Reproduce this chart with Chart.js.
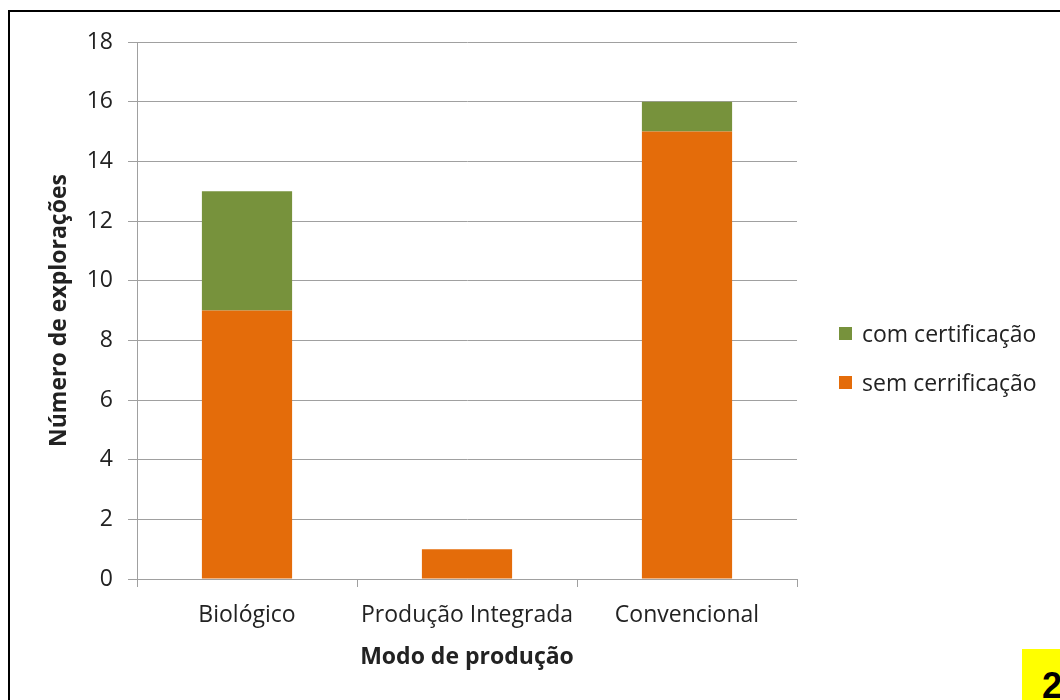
<!DOCTYPE html>
<html lang="pt">
<head>
<meta charset="utf-8">
<title>Número de explorações por modo de produção</title>
<script src="https://cdn.jsdelivr.net/npm/chart.js@4/dist/chart.umd.min.js"></script>
<style>
  html, body { margin: 0; padding: 0; background: #fff; width: 1060px; height: 700px; overflow: hidden; }
  #wrap { position: relative; width: 1060px; height: 700px; }
  #chart { position: absolute; left: 0; top: 0; }
  #frame { position: absolute; left: 8px; top: 10px; width: 1120px; height: 760px;
           border: 2px solid #000; box-sizing: border-box; pointer-events: none; }
  #legend { position: absolute; left: 839px; top: 319px; font: 23px "Open Sans", Lato, sans-serif; color: #222; }
  .item { display: flex; align-items: center; height: 28px; margin-bottom: 21px; white-space: nowrap; }
  .swatch { width: 13px; height: 13px; margin-right: 10px; flex: none; }
  #badge { position: absolute; left: 1022px; top: 649px; width: 80px; height: 80px; background: #ffff00; }
  #badge span { position: absolute; left: 20px; top: 19px; font: bold 36px "Liberation Sans", Arial, sans-serif;
                line-height: 36px; color: #000; }
</style>
</head>
<body>
<div id="wrap">
  <canvas id="chart" width="1060" height="700"></canvas>
  <div id="legend"></div>
  <div id="frame"></div>
  <div id="badge"><span>2</span></div>
</div>
<script>
// Categories and values
const categories = ['Biológico', 'Produção Integrada', 'Convencional'];
const semCertificacao = [9, 1, 15];
const comCertificacao = [4, 0, 1];
const seriesNames = ['sem cerrificação', 'com certificação'];
const seriesColors = ['#e46c0a', '#77923c'];
const yMin = 0, yMax = 18, yStep = 2;

const textColor = '#222';
const lineColor = '#a0a0a0';
const baseFont = { family: '"Open Sans", Lato, sans-serif', size: 23 };
const boldFont = { family: '"Open Sans", Lato, sans-serif', size: 23, weight: 'bold' };

const datasets = [
  { label: seriesNames[0], data: semCertificacao, backgroundColor: seriesColors[0] },
  { label: seriesNames[1], data: comCertificacao, backgroundColor: seriesColors[1] }
].map(d => Object.assign(d, { borderWidth: 0, categoryPercentage: 1, barPercentage: 0.41 }));

const chart = new Chart(document.getElementById('chart'), {
  type: 'bar',
  data: { labels: categories, datasets },
  options: {
    responsive: false,
    animation: false,
    devicePixelRatio: 1,
    layout: { padding: { left: 34, top: 42, right: 263, bottom: 0 } },
    plugins: { legend: { display: false }, tooltip: { enabled: false } },
    scales: {
      x: {
        stacked: true,
        grid: { offset: true, drawOnChartArea: false, drawTicks: true, tickLength: 8, color: lineColor },
        border: { color: lineColor },
        ticks: { font: baseFont, color: textColor, padding: 15, maxRotation: 0 },
        title: { display: true, text: 'Modo de produção', font: boldFont, color: textColor,
                 padding: { top: 0, bottom: 29 } },
        afterFit: s => { s.height = 121; }
      },
      y: {
        stacked: true,
        min: yMin, max: yMax,
        ticks: { stepSize: yStep, font: baseFont, color: textColor, padding: 15 },
        grid: { color: lineColor, tickLength: 9 },
        border: { color: lineColor },
        title: { display: true, text: 'Número de explorações', font: boldFont, color: textColor,
                 padding: { top: 12, bottom: 0 } },
        afterFit: s => { s.width = 103; }
      }
    }
  }
});

// Legend built from the datasets, top entry first (stack order reversed)
const legend = document.getElementById('legend');
chart.data.datasets.slice().reverse().forEach(ds => {
  const item = document.createElement('div');
  item.className = 'item';
  const sw = document.createElement('span');
  sw.className = 'swatch';
  sw.style.background = ds.backgroundColor;
  const tx = document.createElement('span');
  tx.textContent = ds.label;
  item.appendChild(sw);
  item.appendChild(tx);
  legend.appendChild(item);
});
</script>
</body>
</html>
